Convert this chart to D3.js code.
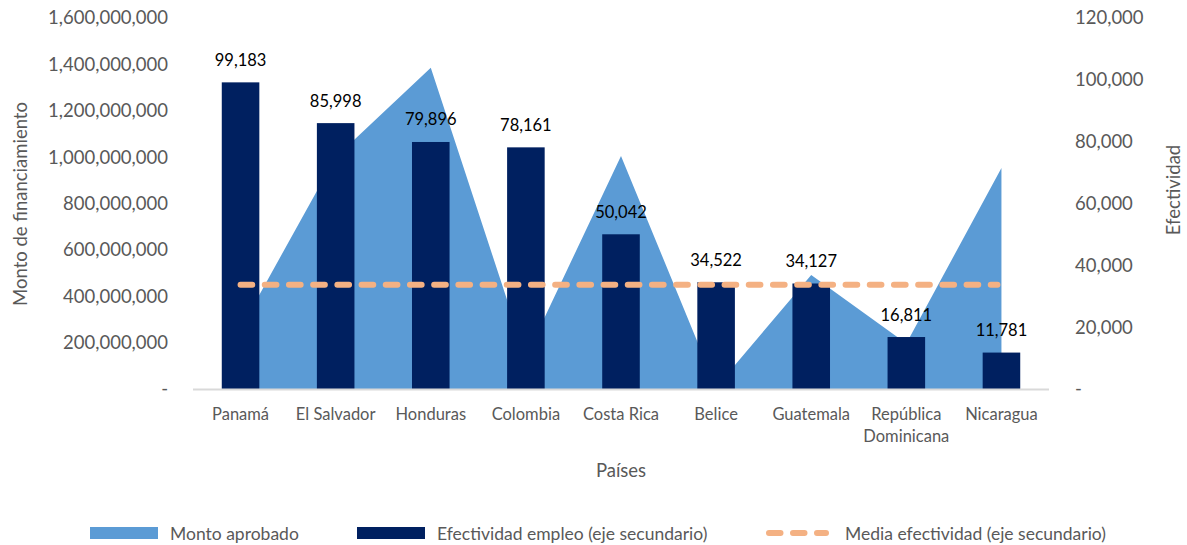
<!DOCTYPE html>
<html>
<head>
<meta charset="utf-8">
<script src="https://cdn.jsdelivr.net/npm/d3@7"></script>
<style>
  body { margin: 0; background: #fff; }
  svg { display: block; font-family: Lato, 'Open Sans', sans-serif; }
</style>
</head>
<body>
<svg id="chart"></svg>
<script>
// Data
const paises = ['Panamá', 'El Salvador', 'Honduras', 'Colombia', 'Costa Rica', 'Belice', 'Guatemala', 'República Dominicana', 'Nicaragua'];
const montoAprobado = [260000000, 1000000000, 1385000000, 138000000, 1005000000, 8000000, 492000000, 196000000, 953000000];
const efectividad = [99183, 85998, 79896, 78161, 50042, 34522, 34127, 16811, 11781];
const mediaEfectividad = 33700;
const ticksMonto = [0, 200000000, 400000000, 600000000, 800000000, 1000000000, 1200000000, 1400000000, 1600000000];
const ticksEfectividad = [0, 20000, 40000, 60000, 80000, 100000, 120000];

const width = 1187;
const height = 545;
const plot = {left: 193, right: 1049, top: 18, bottom: 389};

const svg = d3.select('#chart')
  .attr('width', width)
  .attr('height', height);

// Scales
const x = d3.scaleBand()
  .domain(paises)
  .range([plot.left, plot.right])
  .paddingInner(0.605)
  .paddingOuter(0.3025);

const cx = d => x(d) + x.bandwidth() / 2;

const yLeft = d3.scaleLinear()
  .domain([0, 1600000000])
  .range([plot.bottom, plot.top]);

const yRight = d3.scaleLinear()
  .domain([0, 120000])
  .range([plot.bottom, plot.top]);

const fmt = d3.format(',');
const tickFmt = v => v === 0 ? '-' : fmt(v);

// Area (monto aprobado)
const area = d3.area()
  .x((d, i) => cx(paises[i]))
  .y0(yLeft(0))
  .y1(d => yLeft(d));

svg.append('path')
  .attr('d', area(montoAprobado))
  .attr('fill', '#5B9BD5');

// Bars (efectividad)
svg.append('g')
  .selectAll('rect')
  .data(efectividad)
  .join('rect')
    .attr('x', (d, i) => x(paises[i]))
    .attr('y', d => yRight(d))
    .attr('width', x.bandwidth())
    .attr('height', d => yRight(0) - yRight(d))
    .attr('fill', '#002060');

// Axis line
svg.append('line')
  .attr('x1', plot.left)
  .attr('x2', plot.right)
  .attr('y1', plot.bottom + 0.5)
  .attr('y2', plot.bottom + 0.5)
  .attr('stroke', '#D9D9D9')
  .attr('stroke-width', 2);

// Mean line
svg.append('line')
  .attr('x1', cx(paises[0]))
  .attr('x2', cx(paises[paises.length - 1]) - 4)
  .attr('y1', yRight(mediaEfectividad))
  .attr('y2', yRight(mediaEfectividad))
  .attr('stroke', '#F4B183')
  .attr('stroke-width', 6)
  .attr('stroke-linecap', 'round')
  .attr('stroke-dasharray', '11.7,12.5');

// Value labels
svg.append('g')
  .selectAll('text')
  .data(efectividad)
  .join('text')
    .attr('x', (d, i) => cx(paises[i]))
    .attr('y', d => yRight(d) - 16.5)
    .attr('text-anchor', 'middle')
    .attr('font-size', 16.5)
    .attr('fill', '#000')
    .text(d => fmt(d));

// Left axis
const leftAxis = d3.axisLeft(yLeft)
  .tickValues(ticksMonto)
  .tickFormat(tickFmt)
  .tickSize(0)
  .tickPadding(25);

svg.append('g')
  .attr('transform', `translate(${plot.left}, 0)`)
  .call(leftAxis)
  .call(g => g.select('.domain').remove())
  .call(g => g.selectAll('text')
    .attr('font-family', 'Lato, sans-serif')
    .attr('font-size', 18.5)
    .attr('fill', '#595959'));

// Right axis
const rightAxis = d3.axisRight(yRight)
  .tickValues(ticksEfectividad)
  .tickFormat(tickFmt)
  .tickSize(0)
  .tickPadding(26);

svg.append('g')
  .attr('transform', `translate(${plot.right}, 0)`)
  .call(rightAxis)
  .call(g => g.select('.domain').remove())
  .call(g => g.selectAll('text')
    .attr('font-family', 'Lato, sans-serif')
    .attr('font-size', 18.5)
    .attr('fill', '#595959'));

// Category labels (wrap "República Dominicana")
const catLabels = svg.append('g')
  .selectAll('text')
  .data(paises)
  .join('text')
    .attr('x', d => cx(d))
    .attr('y', 420)
    .attr('text-anchor', 'middle')
    .attr('font-size', 16.5)
    .attr('fill', '#595959');

catLabels.each(function(d) {
  const words = d === 'República Dominicana' ? d.split(' ') : [d];
  d3.select(this).selectAll('tspan')
    .data(words)
    .join('tspan')
      .attr('x', cx(d))
      .attr('dy', (w, i) => i === 0 ? 0 : 22)
      .text(w => w);
});

// Axis titles
svg.append('text')
  .attr('x', 621)
  .attr('y', 477)
  .attr('text-anchor', 'middle')
  .attr('font-size', 18.5)
  .attr('fill', '#595959')
  .text('Países');

svg.append('text')
  .attr('transform', 'translate(27, 204) rotate(-90)')
  .attr('text-anchor', 'middle')
  .attr('font-size', 18.5)
  .attr('fill', '#595959')
  .text('Monto de financiamiento');

svg.append('text')
  .attr('transform', 'translate(1180, 190) rotate(-90)')
  .attr('text-anchor', 'middle')
  .attr('font-size', 18.5)
  .attr('fill', '#595959')
  .text('Efectividad');

// Legend
const legend = svg.append('g');

legend.append('rect')
  .attr('x', 90).attr('y', 527).attr('width', 68).attr('height', 12)
  .attr('fill', '#5B9BD5');
legend.append('text')
  .attr('x', 170).attr('y', 539.5)
  .attr('font-size', 17.5).attr('fill', '#595959')
  .text('Monto aprobado');

legend.append('rect')
  .attr('x', 357).attr('y', 527).attr('width', 68).attr('height', 12)
  .attr('fill', '#002060');
legend.append('text')
  .attr('x', 437).attr('y', 539.5)
  .attr('font-size', 17.5).attr('fill', '#595959')
  .text('Efectividad empleo (eje secundario)');

legend.append('line')
  .attr('x1', 769).attr('x2', 826).attr('y1', 533).attr('y2', 533)
  .attr('stroke', '#F4B183')
  .attr('stroke-width', 6)
  .attr('stroke-linecap', 'round')
  .attr('stroke-dasharray', '11.5,12.5');
legend.append('text')
  .attr('x', 845).attr('y', 539.5)
  .attr('font-size', 17.5).attr('fill', '#595959')
  .text('Media efectividad (eje secundario)');
</script>
</body>
</html>
